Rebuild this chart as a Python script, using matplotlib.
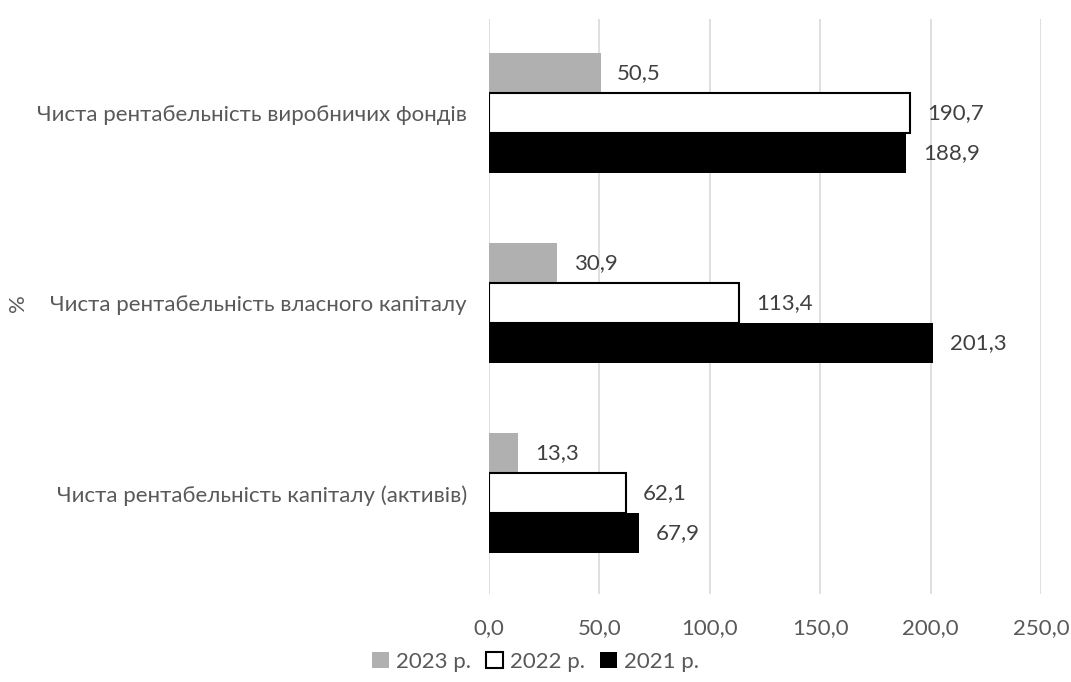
import matplotlib.pyplot as plt
import numpy as np

plt.rcParams['font.family'] = ['Lato', 'DejaVu Sans']

categories = ['Чиста рентабельність виробничих фондів',
              'Чиста рентабельність власного капіталу',
              'Чиста рентабельність капіталу (активів)']
years = ['2023 р.', '2022 р.', '2021 р.']
v2023 = [50.5, 30.9, 13.3]
v2022 = [190.7, 113.4, 62.1]
v2021 = [188.9, 201.3, 67.9]
ticks = [0, 50, 100, 150, 200, 250]

fs = 16
fig = plt.figure(figsize=(10.71, 6.82), dpi=100)
ax = fig.add_axes([489 / 1071, 1 - 594 / 682, (1041 - 489) / 1071, (594 - 19) / 682])

y = np.arange(len(categories))
h = 0.21
styles = [dict(color='#b0b0b0'),
          dict(color='white', edgecolor='black', linewidth=1.5),
          dict(color='black')]
for i, (vals, st, lab) in enumerate(zip([v2023, v2022, v2021], styles, years)):
    bars = ax.barh(y + (i - 1) * h, vals, height=h, label=lab, zorder=3, **st)
    for b, v in zip(bars, vals):
        ax.annotate(f'{v:.1f}'.replace('.', ','),
                    xy=(b.get_width(), b.get_y() + b.get_height() / 2),
                    xytext=(12, 0), textcoords='offset points',
                    va='center', ha='left', fontsize=fs, color='#404040')

ax.set_xlim(0, 250)
ax.set_ylim(2.53, -0.495)
ax.set_xticks(ticks)
ax.set_xticklabels([f'{t:.1f}'.replace('.', ',') for t in ticks])
ax.set_yticks(y)
ax.set_yticklabels(categories)
ax.tick_params(axis='both', length=0, labelsize=fs, colors='#595959')
ax.tick_params(axis='x', pad=17)
ax.tick_params(axis='y', pad=16)
ax.grid(axis='x', color='#d9d9d9', linewidth=1.2, zorder=0)
for s in ax.spines.values():
    s.set_visible(False)

fig.text(18 / 1071, 1 - 303 / 682, '%', rotation=90, ha='center', va='center',
         fontsize=fs, color='#595959')

handles, labels = ax.get_legend_handles_labels()
fig.legend(handles, labels, loc='center', bbox_to_anchor=(0.5, 1 - 662 / 682),
           ncol=3, frameon=False, fontsize=fs, handlelength=0.75, handleheight=0.75,
           handletextpad=0.3, columnspacing=0.7, labelcolor='#595959')

fig.savefig('out.png', dpi=100, facecolor='white')
